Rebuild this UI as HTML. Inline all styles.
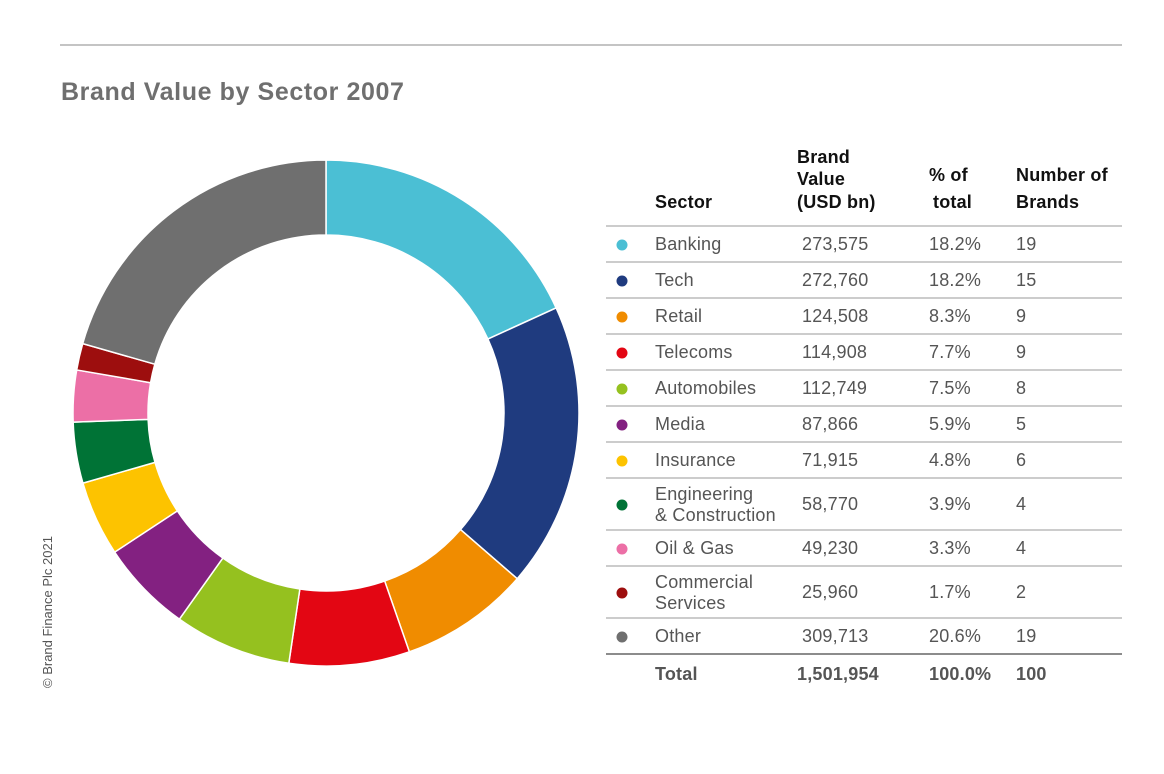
<!DOCTYPE html>
<html><head><meta charset="utf-8">
<style>
html,body{margin:0;padding:0;background:#fff;}
svg{display:block;font-family:"Liberation Sans",Arial,sans-serif;}
</style></head>
<body>
<svg id="s" width="1164" height="774" viewBox="0 0 1164 774" xmlns="http://www.w3.org/2000/svg">
<line x1="60" y1="45" x2="1122" y2="45" stroke="#8a8a8a" stroke-width="1"/>
<text x="61" y="100" font-size="25" font-weight="bold" fill="#6f6f6f" letter-spacing="0.6">Brand Value by Sector 2007</text>
<text transform="translate(52,688) rotate(-90)" font-size="13" fill="#555">© Brand Finance Plc 2021</text>
<g id="donut"></g>
<g font-size="18" font-weight="bold" fill="#111" letter-spacing="0.2">
<text x="655" y="208">Sector</text>
<text x="797" y="163">Brand</text>
<text x="797" y="185">Value</text>
<text x="797" y="208">(USD bn)</text>
<text x="929" y="181">% of</text>
<text x="933" y="208">total</text>
<text x="1016" y="181">Number of</text>
<text x="1016" y="208">Brands</text>
</g>
<g id="tbl" font-size="18" fill="#555" letter-spacing="0.2"></g>
</svg>
<script>
var data=[
["Banking","273,575","18.2%","19",18.2,"#4bbfd4"],
["Tech","272,760","18.2%","15",18.2,"#1f3b7f"],
["Retail","124,508","8.3%","9",8.3,"#f08c00"],
["Telecoms","114,908","7.7%","9",7.7,"#e30613"],
["Automobiles","112,749","7.5%","8",7.5,"#95c11f"],
["Media","87,866","5.9%","5",5.9,"#832181"],
["Insurance","71,915","4.8%","6",4.8,"#fdc300"],
["Engineering|& Construction","58,770","3.9%","4",3.9,"#007336"],
["Oil & Gas","49,230","3.3%","4",3.3,"#ec6fa6"],
["Commercial|Services","25,960","1.7%","2",1.7,"#9d0e0e"],
["Other","309,713","20.6%","19",20.6,"#6f6f6f"]];
var NS="http://www.w3.org/2000/svg";
function el(t,a,p,txt){var e=document.createElementNS(NS,t);for(var k in a)e.setAttribute(k,a[k]);if(txt!=null)e.textContent=txt;p.appendChild(e);return e;}
var cx=326,cy=413,R=253,r=178,tot=0;data.forEach(function(d){tot+=d[4];});
var a0=0,g=document.getElementById("donut");
data.forEach(function(d){
 var a1=a0+d[4]/tot*2*Math.PI;
 function p(rad,a){return [cx+rad*Math.sin(a),cy-rad*Math.cos(a)];}
 var L=(a1-a0)>Math.PI?1:0;
 var A=p(R,a0),B=p(R,a1),C=p(r,a1),D=p(r,a0);
 el("path",{d:"M"+A+" A"+R+","+R+" 0 "+L+" 1 "+B+" L"+C+" A"+r+","+r+" 0 "+L+" 0 "+D+"Z",fill:d[5],stroke:"#fff","stroke-width":"1.5"},g);
 a0=a1;});
var t=document.getElementById("tbl");
var bounds=[226,262,298,334,370,406,442,478,530,566,618,654];
el("line",{x1:606,y1:226,x2:1122,y2:226,stroke:"#999"},t);
data.forEach(function(d,i){
 var y0=bounds[i],y1=bounds[i+1],m=(y0+y1)/2;
 el("line",{x1:606,y1:y1,x2:1122,y2:y1,stroke:i==10?"#666":"#999","stroke-width":i==10?1.5:1},t);
 el("circle",{cx:622,cy:m+1,r:5.5,fill:d[5]},t);
 var lines=d[0].split("|");
 if(lines.length==1)el("text",{x:655,y:m+6},t,lines[0]);
 else{el("text",{x:655,y:m-4},t,lines[0]);el("text",{x:655,y:m+17},t,lines[1]);}
 el("text",{x:802,y:m+6},t,d[1]);
 el("text",{x:929,y:m+6},t,d[2]);
 el("text",{x:1016,y:m+6},t,d[3]);
});
var tb=el("g",{"font-weight":"bold"},t);
el("text",{x:655,y:680},tb,"Total");
el("text",{x:797,y:680},tb,"1,501,954");
el("text",{x:929,y:680},tb,"100.0%");
el("text",{x:1016,y:680},tb,"100");
</script>
</body></html>
